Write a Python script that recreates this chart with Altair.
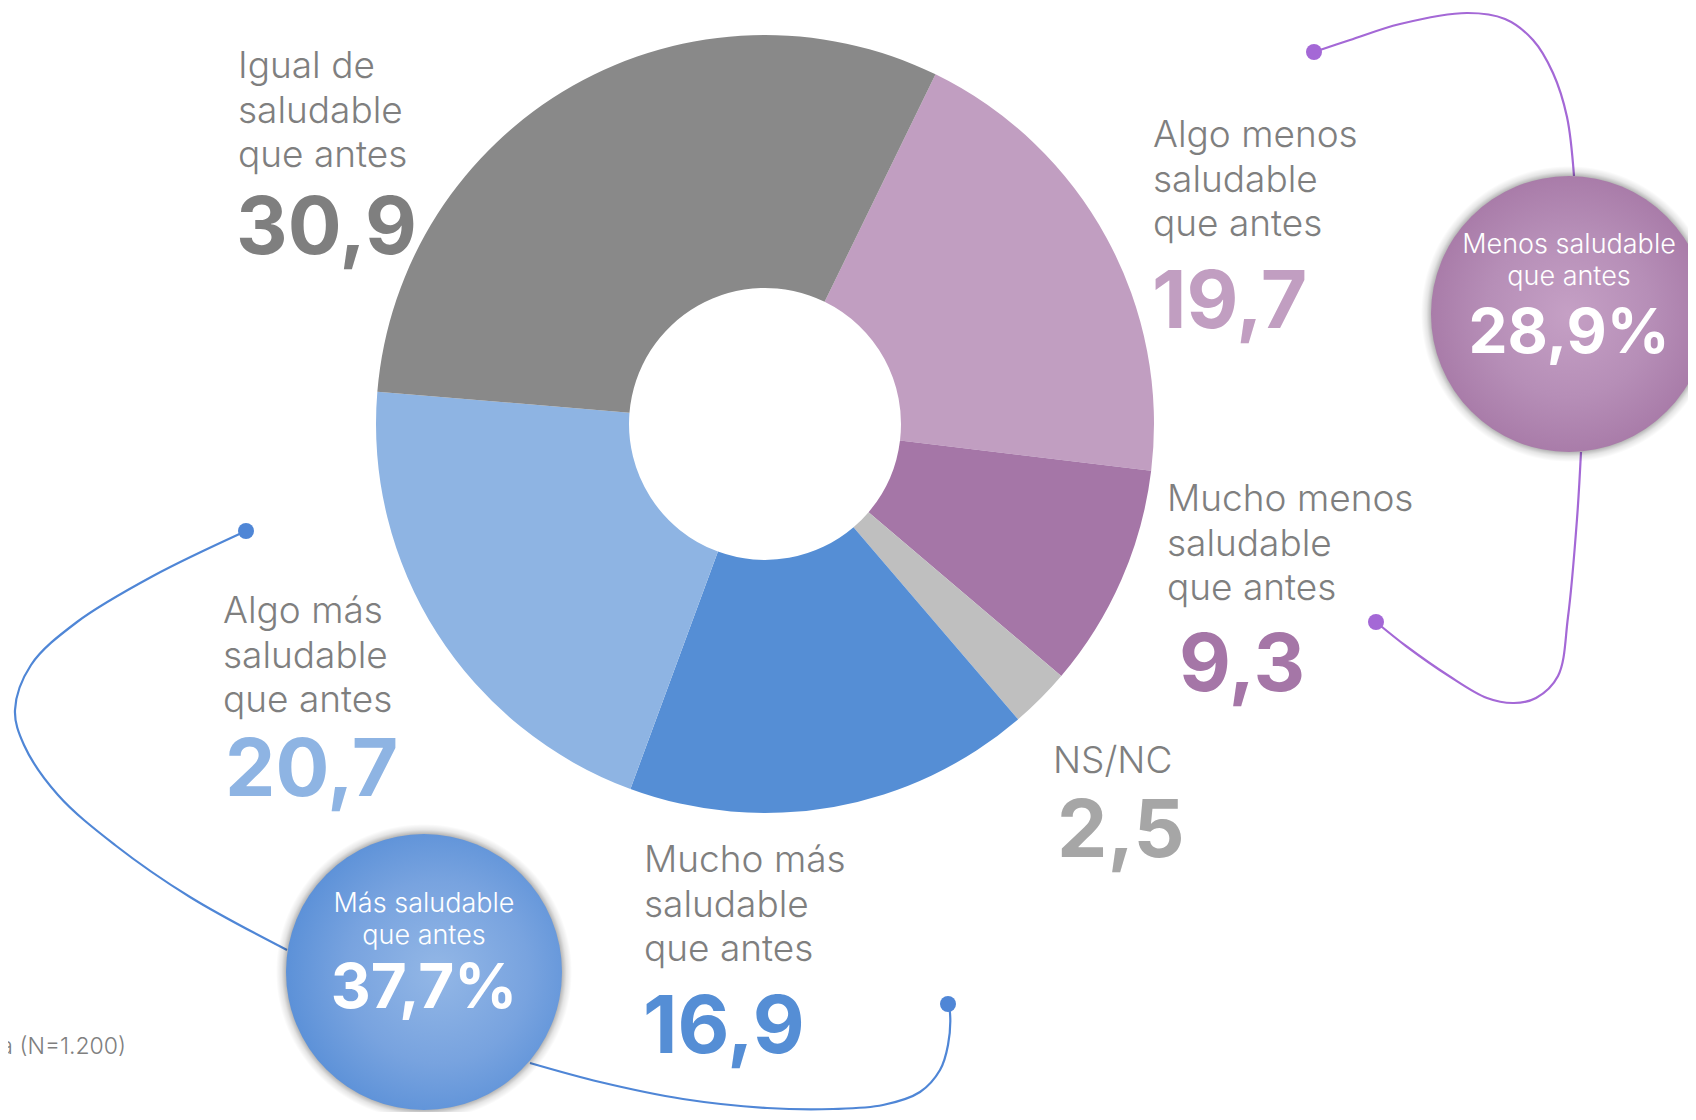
import math
import altair as alt
import pandas as pd

# ---------------- data ----------------
categories = [
    "Algo menos saludable que antes",
    "Mucho menos saludable que antes",
    "NS/NC",
    "Mucho más saludable que antes",
    "Algo más saludable que antes",
    "Igual de saludable que antes",
]
values = [19.7, 9.3, 2.5, 16.9, 20.7, 30.9]
value_labels = ["19,7", "9,3", "2,5", "16,9", "20,7", "30,9"]
label_texts = [
    "Algo menos\nsaludable\nque antes",
    "Mucho menos\nsaludable\nque antes",
    "NS/NC",
    "Mucho más\nsaludable\nque antes",
    "Algo más\nsaludable\nque antes",
    "Igual de\nsaludable\nque antes",
]
slice_colors = ["#c19ec1", "#a576a7", "#bfbfbf", "#558ed5", "#8eb4e3", "#898989"]
number_colors = ["#c19ec1", "#a576a7", "#a6a6a6", "#558ed5", "#8eb4e3", "#7f7f7f"]

# label anchor positions (reference pixel space)
label_x = [1153, 1167, 1053, 644, 223, 238]
label_y = [147, 511, 773, 872, 623, 78]
number_x = [1152, 1179, 1057, 643, 225, 236]
number_y = [328, 691, 857, 1053, 796, 254]

group_names = ["Menos saludable\nque antes", "Más saludable\nque antes"]
group_totals = ["28,9%", "37,7%"]
group_cx = [1569, 424]
group_cy = [314, 972]
group_name_y = [253, 912]
group_total_y = [353, 1008]

footnote = "Base: total muestra (N=1.200)"

# connector paths (reference pixel space)
purple_a_x = [1314, 1350, 1400, 1467, 1505, 1533, 1553, 1567, 1574]
purple_a_y = [52, 40, 24, 13, 19, 40, 73, 117, 176]
purple_b_x = [1581, 1577, 1568, 1558, 1536, 1514, 1487, 1449, 1406, 1376]
purple_b_y = [452, 519, 617, 676, 698, 703, 698, 676, 646, 622]
blue_a_x = [246, 153, 77, 31, 15, 24, 58, 115, 190, 287]
blue_a_y = [531, 576, 622, 665, 710, 745, 795, 845, 897, 950]
blue_b_x = [530, 600, 683, 767, 833, 883, 920, 940, 948, 950, 948]
blue_b_y = [1063, 1082, 1099, 1108, 1109, 1105, 1092, 1070, 1045, 1013, 1004]
dot_x = [1314, 1376, 246, 948]
dot_y = [52, 622, 531, 1004]
dot_colors = ["#a468d6", "#a468d6", "#4f86d6", "#4f86d6"]

PURPLE_LINE = "#a468d6"
BLUE_LINE = "#4f86d6"
FONT = "Inter"

# ---------------- scales ----------------
W, H = 1680, 1104
XS = alt.Scale(domain=[8, 8 + W], nice=False, zero=False)
YS = alt.Scale(domain=[8, 8 + H], nice=False, zero=False, reverse=True)


def X(field="x"):
    return alt.X(f"{field}:Q", scale=XS, axis=None)


def Y(field="y"):
    return alt.Y(f"{field}:Q", scale=YS, axis=None)


# ---------------- tables ----------------
slices = pd.DataFrame({
    "cat": categories, "value": values, "idx": list(range(len(values))),
    "cx": [765] * len(values), "cy": [424] * len(values),
})
labels = pd.DataFrame({"x": label_x, "y": label_y, "text": label_texts})
numbers = pd.DataFrame({"x": number_x, "y": number_y, "text": value_labels, "col": number_colors})

rows = []
for name, xs, ys, col in [("pa", purple_a_x, purple_a_y, PURPLE_LINE),
                          ("pb", purple_b_x, purple_b_y, PURPLE_LINE),
                          ("ba", blue_a_x, blue_a_y, BLUE_LINE),
                          ("bb", blue_b_x, blue_b_y, BLUE_LINE)]:
    for i, (a, b) in enumerate(zip(xs, ys)):
        rows.append({"path": name, "seq": i, "x": a, "y": b, "col": col})
paths = pd.DataFrame(rows)
dots = pd.DataFrame({"x": dot_x, "y": dot_y, "col": dot_colors})

groups = pd.DataFrame({
    "x": group_cx, "y": group_cy, "name": group_names, "total": group_totals,
    "ny": group_name_y, "ty": group_total_y,
})

# ---------------- layers ----------------
start = math.radians(26.0)

donut = alt.Chart(slices).mark_arc(innerRadius=136, outerRadius=389, strokeWidth=0).encode(
    x=X("cx"), y=Y("cy"),
    theta=alt.Theta("value:Q", stack=True,
                    scale=alt.Scale(domain=[0, 100], range=[start, start + 2 * math.pi])),
    color=alt.Color("cat:N", scale=alt.Scale(domain=categories, range=slice_colors), legend=None),
    order=alt.Order("idx:Q"),
)

lines = alt.Chart(paths).mark_line(interpolate="catmull-rom", strokeWidth=2.2, clip=True).encode(
    x=X(), y=Y(), detail="path:N", order="seq:Q",
    color=alt.Color("col:N", scale=None),
)

# Vega circle symbols: radius = sqrt(size) / 2
dot_layer = alt.Chart(dots).mark_circle(size=(2 * 8) ** 2, opacity=1).encode(
    x=X(), y=Y(), color=alt.Color("col:N", scale=None),
)

R = 138
RS = 148
shadow_grad = alt.RadialGradient(
    gradient="radial",
    stops=[alt.GradientStop(color="rgba(0,0,0,0.40)", offset=0),
           alt.GradientStop(color="rgba(0,0,0,0.34)", offset=R / RS - 0.01),
           alt.GradientStop(color="rgba(0,0,0,0.10)", offset=R / RS + 0.03),
           alt.GradientStop(color="rgba(0,0,0,0)", offset=1)],
    x1=0.5, y1=0.5, r1=0, x2=0.5, y2=0.5, r2=0.5,
)
shadow = alt.Chart(groups).mark_circle(size=(2 * RS) ** 2, opacity=1, fill=shadow_grad,
                                       strokeWidth=0, clip=True).encode(x=X(), y=Y())

purple_grad = alt.RadialGradient(
    gradient="radial",
    stops=[alt.GradientStop(color="#c5a0c5", offset=0),
           alt.GradientStop(color="#b68eb7", offset=0.6),
           alt.GradientStop(color="#a97ca9", offset=1)],
    x1=0.5, y1=0.5, r1=0, x2=0.5, y2=0.5, r2=0.5,
)
blue_grad = alt.RadialGradient(
    gradient="radial",
    stops=[alt.GradientStop(color="#93b7e6", offset=0),
           alt.GradientStop(color="#78a3df", offset=0.6),
           alt.GradientStop(color="#5c91d8", offset=1)],
    x1=0.55, y1=0.5, r1=0, x2=0.55, y2=0.5, r2=0.55,
)
circ_purple = alt.Chart(groups.iloc[[0]]).mark_circle(
    size=(2 * R) ** 2, opacity=1, fill=purple_grad, strokeWidth=0, clip=True
).encode(x=X(), y=Y())
circ_blue = alt.Chart(groups.iloc[[1]]).mark_circle(
    size=(2 * R) ** 2, opacity=1, fill=blue_grad, strokeWidth=0, clip=True
).encode(x=X(), y=Y())

group_name_layer = alt.Chart(groups).mark_text(
    font=FONT, fontSize=27, fontWeight=300, color="white", align="center",
    baseline="alphabetic", lineBreak="\n", lineHeight=32, clip=True,
).encode(x=X(), y=Y("ny"), text="name:N")

group_total_layer = alt.Chart(groups).mark_text(
    font=FONT, fontSize=62, fontWeight=700, color="white", align="center",
    baseline="alphabetic", clip=True,
).encode(x=X(), y=Y("ty"), text="total:N")

label_layer = alt.Chart(labels).mark_text(
    font=FONT, fontSize=37, fontWeight=300, color="#7f7f7f", align="left",
    baseline="alphabetic", lineBreak="\n", lineHeight=44.5,
).encode(x=X(), y=Y(), text="text:N")

number_layer = alt.Chart(numbers).mark_text(
    font=FONT, fontSize=80, fontWeight=700, align="left", baseline="alphabetic",
).encode(x=X(), y=Y(), text="text:N", color=alt.Color("col:N", scale=None))

foot = alt.Chart(pd.DataFrame({"x": [126], "y": [1054], "text": [footnote]})).mark_text(
    font=FONT, fontSize=23, fontWeight=300, color="#7f7f7f", align="right",
    baseline="alphabetic", clip=True,
).encode(x=X(), y=Y(), text="text:N")

chart = alt.layer(
    donut, lines, dot_layer, shadow, circ_purple, circ_blue,
    group_name_layer, group_total_layer, label_layer, number_layer, foot,
).properties(
    width=W, height=H, padding=0,
    autosize=alt.AutoSizeParams(type="none"),
    background="white",
).configure_view(stroke=None)

chart.save("out.html", embed_options={"renderer": "svg", "actions": False})
